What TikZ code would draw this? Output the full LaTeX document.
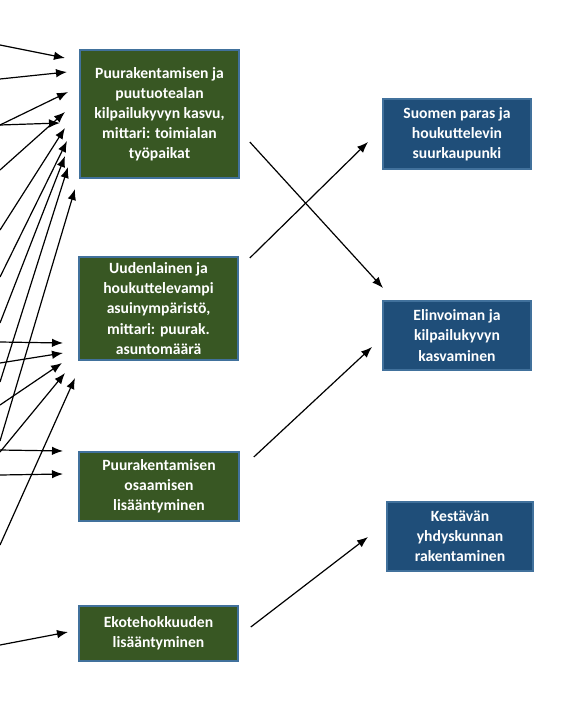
\documentclass[tikz,border=0pt]{standalone}
\usepackage{fontspec}
\newfontfamily\carlito{Carlito}
\usetikzlibrary{arrows.meta}
\definecolor{boxgreen}{HTML}{385723}
\definecolor{boxblue}{HTML}{1F4E79}
\definecolor{boxedge}{HTML}{41719C}

\begin{document}
\begin{tikzpicture}[x=1bp, y=-1bp, >={Latex[length=11bp,width=8.5bp]}, line width=1.2bp,
  tavoite/.style={draw=boxedge, line width=1.6bp, fill=boxgreen, text=white, inner sep=0pt,
    font=\carlito\bfseries\fontsize{15.7}{20.2}\selectfont, align=center},
  paamaara/.style={tavoite, fill=boxblue}]

\useasboundingbox (0,0) rectangle (588,709);

% vaikuttavuustavoitteet
\node[tavoite, minimum width=159bp, minimum height=128bp] (p1) at (159.5,114)
  {Puurakentamisen ja\\ puutuotealan\\ kilpailukyvyn kasvu,\\ mittari: toimialan\\ työpaikat};
\node[tavoite, minimum width=159bp, minimum height=103bp] (p2) at (158.5,308.5)
  {Uudenlainen ja\\ houkuttelevampi\\ asuinympäristö,\\ mittari: puurak.\\ asuntomäärä};
\node[tavoite, minimum width=160bp, minimum height=69bp] (p3) at (159,486.5)
  {Puurakentamisen\\ osaamisen\\ lisääntyminen};
\node[tavoite, minimum width=159bp, minimum height=55bp] (p4) at (158.5,633.5)
  {Ekotehokkuuden\\ lisääntyminen};

% kaupungin päämäärät
\node[paamaara, minimum width=148bp, minimum height=70bp] (sA) at (457,134)
  {Suomen paras ja\\ houkuttelevin\\ suurkaupunki};
\node[paamaara, minimum width=148bp, minimum height=69bp] (sB) at (457,335.5)
  {Elinvoiman ja\\ kilpailukyvyn\\ kasvaminen};
\node[paamaara, minimum width=146bp, minimum height=69bp] (sC) at (460,536.5)
  {Kestävän\\ yhdyskunnan\\ rakentaminen};

% nuolet vasemmalta
\foreach \i/\sy/\tx/\ty in {1/45/65/58, 2/79/67/72, 3/125/68/92, 4/170/65/112,
    5/125/60/123, 6/230/65/128, 7/277/67/141, 8/323/65/156, 9/382/68/167,
    10/441/75/189, 11/342/63/343, 12/363/63/353, 13/405/62/363, 14/452/65/373,
    15/545/75/378, 16/450/63/451, 17/475/63/474, 18/645/68/632}{
  \coordinate (l\i) at (0,\sy);
  \coordinate (k\i) at (\tx,\ty);
  \draw[->] (l\i) -- (k\i);
}

% nuolet päämääriin
\coordinate (a1) at ([xshift=10bp]p1.east |- 0,142);
\coordinate (b1) at (383,288);
\coordinate (a2) at ([xshift=11bp]p2.east |- 0,258);
\coordinate (b2) at (368,142);
\coordinate (a3) at ([xshift=14bp]p3.east |- 0,457);
\coordinate (b3) at (372,347);
\coordinate (a4) at ([xshift=12bp]p4.east |- 0,627);
\coordinate (b4) at (368,537);
\draw[->] (a1) -- (b1);
\draw[->] (a2) -- (b2);
\draw[->] (a3) -- (b3);
\draw[->] (a4) -- (b4);

\end{tikzpicture}
\end{document}
